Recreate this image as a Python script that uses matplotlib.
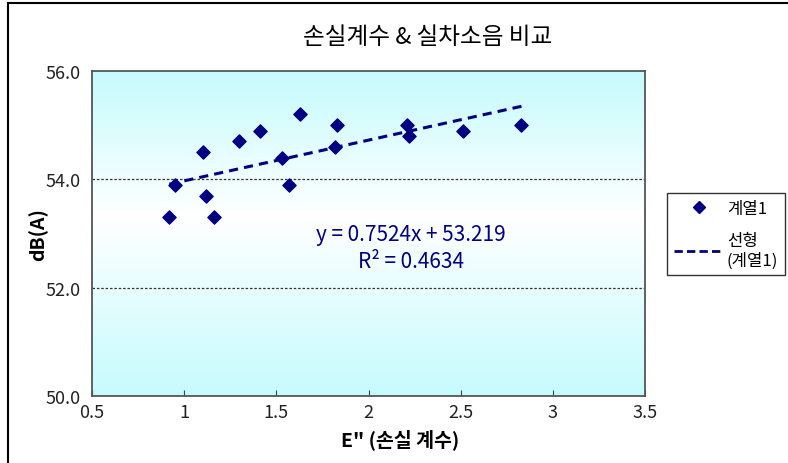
import numpy as np
import matplotlib.pyplot as plt
from matplotlib.colors import LinearSegmentedColormap
from matplotlib.lines import Line2D

plt.rcParams['font.family'] = ['Noto Sans CJK KR', 'DejaVu Sans']

# data
loss_factor = [0.92, 0.95, 1.10, 1.12, 1.16, 1.30, 1.41, 1.53, 1.57, 1.63,
               1.83, 1.82, 2.21, 2.22, 2.51, 2.83]
noise_db = [53.3, 53.9, 54.5, 53.7, 53.3, 54.7, 54.9, 54.4, 53.9, 55.2,
            55.0, 54.6, 55.0, 54.8, 54.9, 55.0]
slope = 0.7524
intercept = 53.219
r2 = 0.4634

xticks = [0.5, 1, 1.5, 2, 2.5, 3, 3.5]
xticklabels = ["0.5", "1", "1.5", "2", "2.5", "3", "3.5"]
yticks = [50, 52, 54, 56]
yticklabels = ["50.0", "52.0", "54.0", "56.0"]

navy = "#000080"

fig = plt.figure(figsize=(7.88, 4.64), dpi=100)
ax = fig.add_axes([92/788, 1-397/464, (645-92)/788, (397-72)/464])

# background gradient: cyan at top and bottom, white in the middle
cmap = LinearSegmentedColormap.from_list("bg", [(0, "#c6fbfd"), (0.55, "#ffffff"), (1, "#c6fbfd")])
grad = np.linspace(0, 1, 256).reshape(-1, 1)
ax.imshow(grad, cmap=cmap, origin="lower", aspect="auto",
          extent=[0.5, 3.5, 50, 56], zorder=0)

for yv in [52, 54]:
    ax.axhline(yv, color="#333333", lw=0.9, ls=(0, (2, 1.5)), zorder=1)

ax.scatter(loss_factor, noise_db, marker="D", s=45, color=navy, zorder=3)

xs = np.array([min(loss_factor), max(loss_factor)])
ax.plot(xs, slope*xs + intercept, color=navy, lw=2.2, ls=(0, (3, 2)), zorder=2)

ax.text(2.23, 52.99, f"y = {slope}x + {intercept}", color=navy, fontsize=15,
        ha="center", va="center")
ax.text(2.23, 52.49, f"R² = {r2}", color=navy, fontsize=15,
        ha="center", va="center")

ax.set_xlim(0.5, 3.5)
ax.set_ylim(50, 56)
ax.set_xticks(xticks)
ax.set_xticklabels(xticklabels, fontsize=13, color="#222222")
ax.set_yticks(yticks)
ax.set_yticklabels(yticklabels, fontsize=13, color="#222222")
ax.tick_params(axis="x", direction="in", length=4, pad=5, color="#444444")
ax.tick_params(axis="y", length=0, pad=8)
for sp in ax.spines.values():
    sp.set_color("#555555")
    sp.set_linewidth(1.3)

ax.set_xlabel('E" (손실 계수)', fontsize=14, fontweight="bold")
ax.xaxis.set_label_coords((400-92)/553, -(440-397)/325, transform=ax.transAxes)
ax.xaxis.label.set_va("center")
ax.set_ylabel("dB(A)", fontsize=14, fontweight="bold")
ax.yaxis.set_label_coords(-(92-38)/553, 0.5, transform=ax.transAxes)
ax.yaxis.label.set_va("center")
fig.text(428/788, 1-38/464, "손실계수 & 실차소음 비교", fontsize=17,
         fontweight="medium", ha="center", va="center")

# legend box
handles = [
    Line2D([], [], marker="D", color=navy, ls="none", markersize=6.5),
    Line2D([], [], color=navy, lw=2, ls=(0, (3, 1.5))),
]
leg = fig.legend(handles, ["계열1", "선형\n(계열1)"], loc="upper left",
                 bbox_to_anchor=(667/788, 1-194/464), fontsize=12,
                 frameon=True, fancybox=False, edgecolor="black",
                 handlelength=3.0, labelspacing=0.9, borderpad=0.4,
                 borderaxespad=0, handletextpad=0.2)
leg.get_frame().set_linewidth(1.0)

# outer chart frame (top and left visible)
fig.add_artist(Line2D([8/788, 8/788], [0, 1-4/464], color="black", lw=1.5))
fig.add_artist(Line2D([8/788, 1], [1-4/464, 1-4/464], color="black", lw=1.5))

fig.savefig("out.png", dpi=100)
